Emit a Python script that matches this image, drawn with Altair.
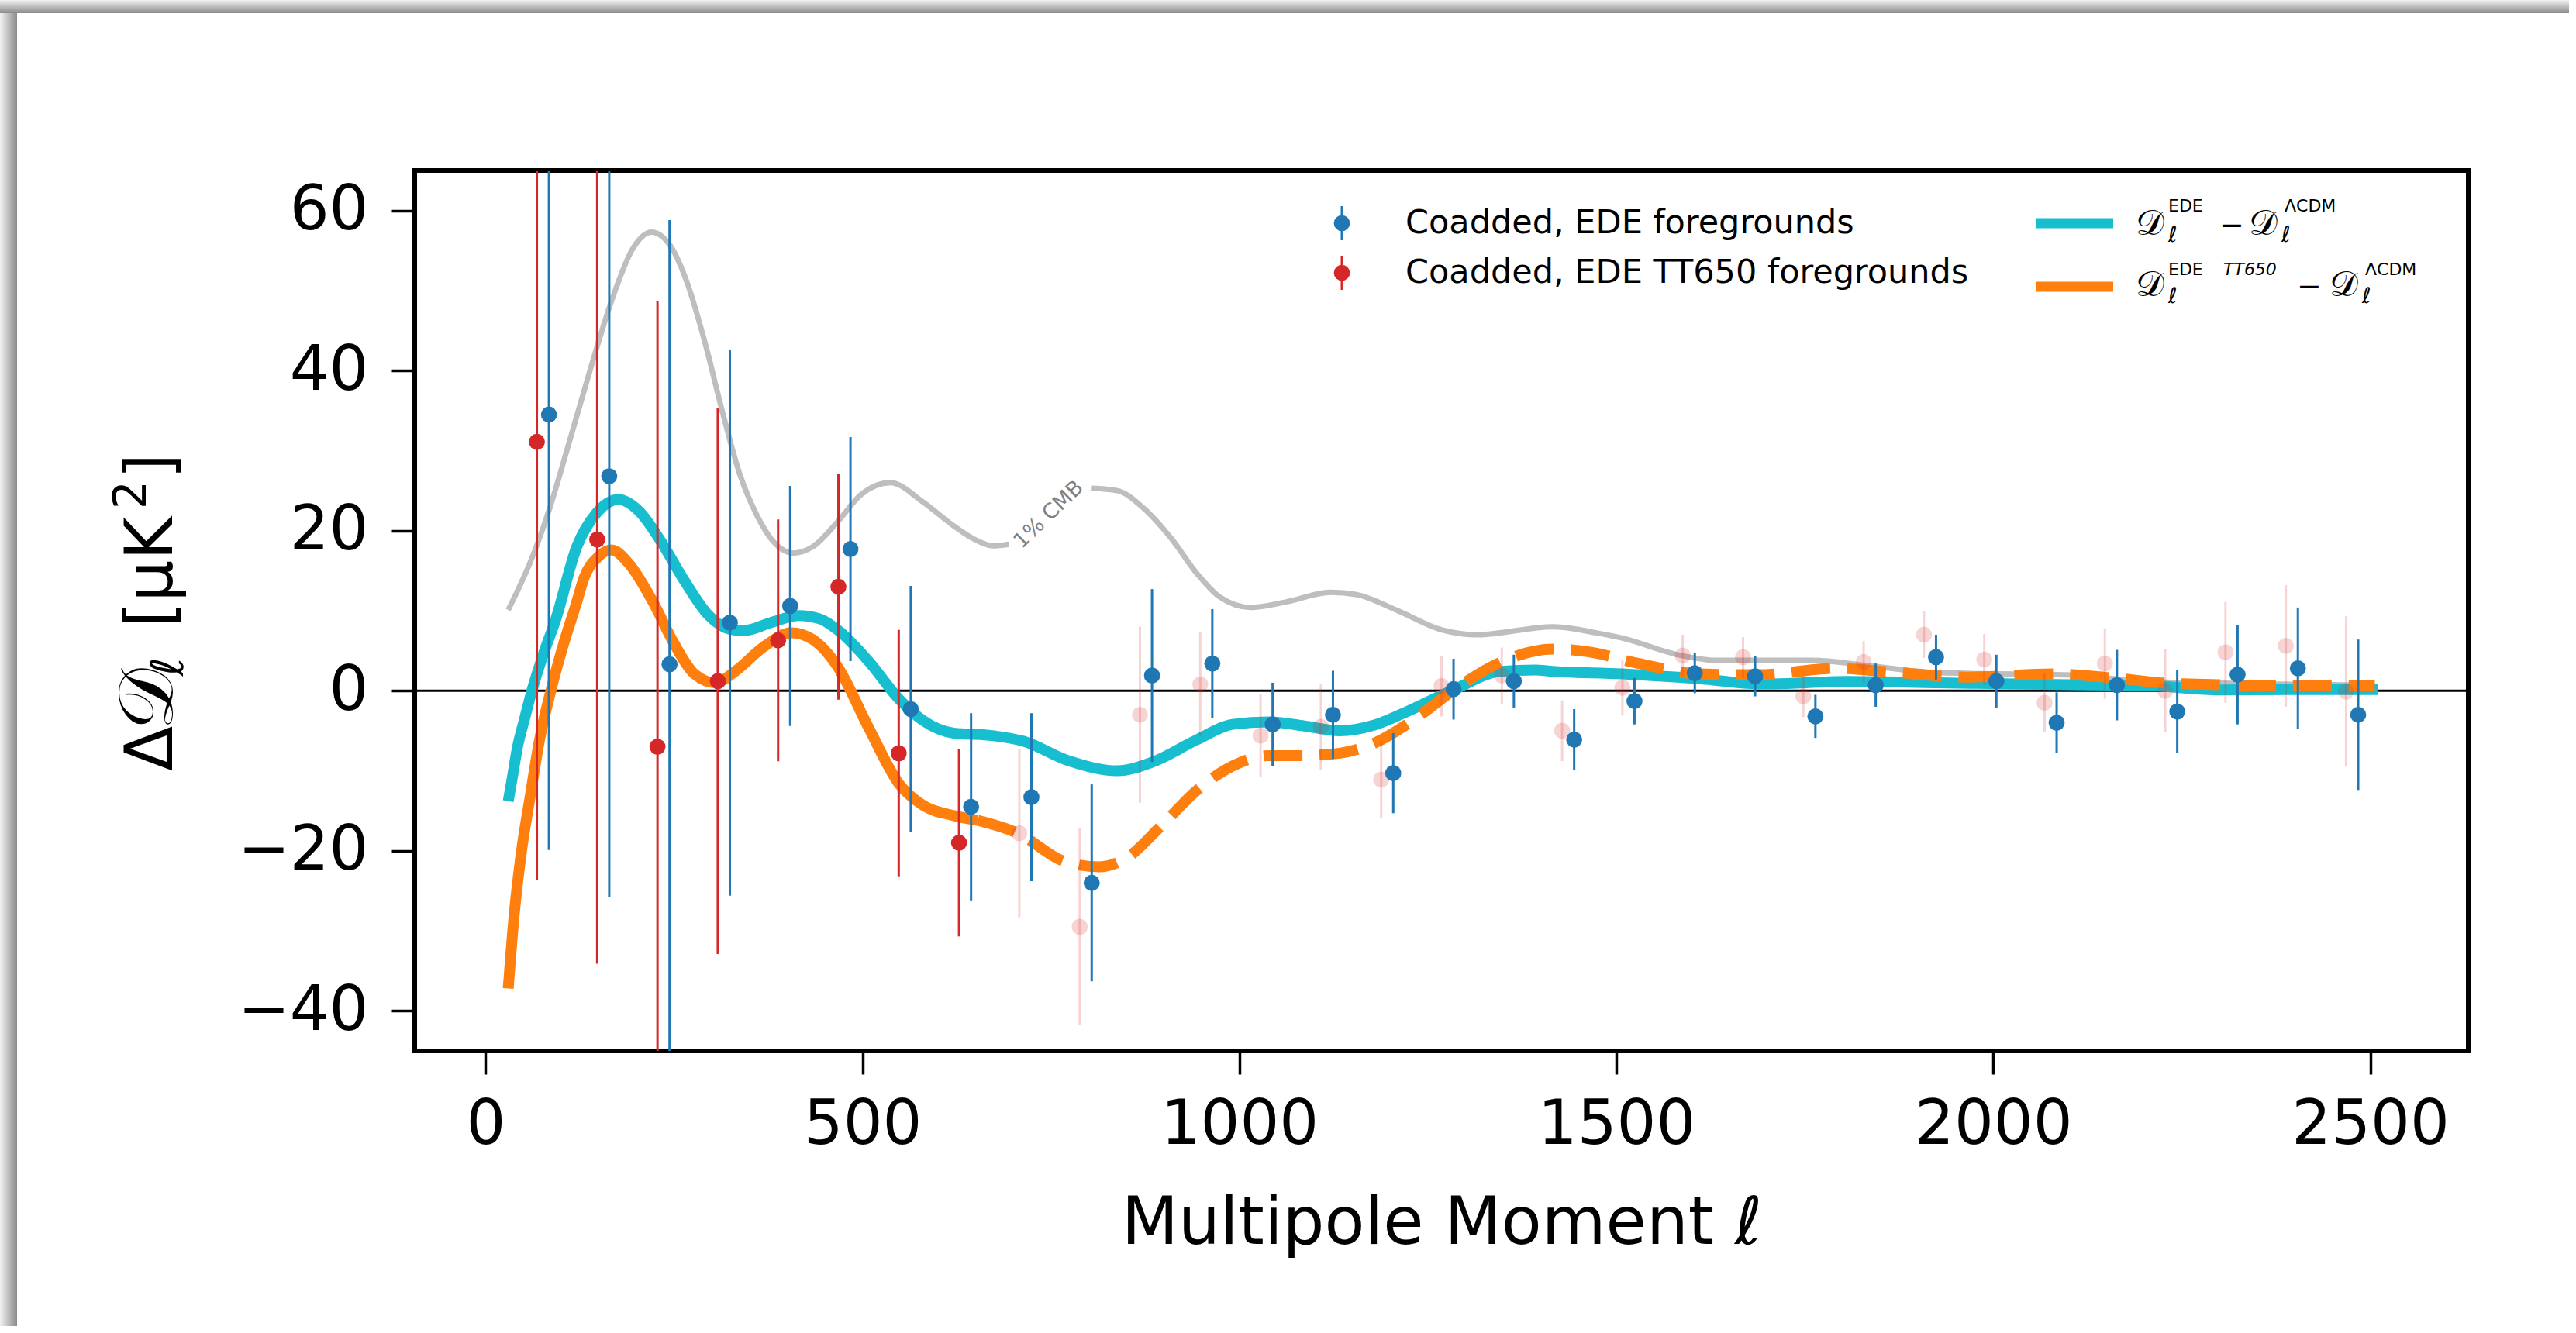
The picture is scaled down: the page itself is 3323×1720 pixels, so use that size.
import altair as alt
import pandas as pd

# ---------------- data ----------------
ell_blue = [84, 164, 244, 324, 404, 484, 564, 644, 724, 804, 884, 964, 1044, 1124, 1204, 1284,
            1364, 1444, 1524, 1604, 1684, 1764, 1844, 1924, 2004, 2084, 2164, 2244, 2324, 2404, 2484]
dl_blue = [34.5, 26.8, 3.3, 8.5, 10.6, 17.7, -2.3, -14.5, -13.3, -24.0, 1.9, 3.4, -4.2, -3.0, -10.3, 0.2,
           1.2, -6.1, -1.3, 2.2, 1.8, -3.2, 0.7, 4.2, 1.2, -4.0, 0.7, -2.6, 2.0, 2.8, -3.0]
err_blue = [54.4, 52.6, 55.5, 34.1, 15.0, 14.0, 15.4, 11.7, 10.5, 12.3, 10.8, 6.8, 5.2, 5.5, 5.0, 3.8,
            3.3, 3.8, 2.9, 2.5, 2.5, 2.7, 2.7, 2.8, 3.3, 3.8, 4.4, 5.2, 6.2, 7.6, 9.4]

ell_red = [68, 148, 228, 308, 388, 468, 548, 628, 708, 788, 868, 948, 1028, 1108, 1188, 1268,
           1348, 1428, 1508, 1588, 1668, 1748, 1828, 1908, 1988, 2068, 2148, 2228, 2308, 2388, 2468]
dl_red = [31.1, 18.9, -7.0, 1.2, 6.3, 13.0, -7.8, -19.0, -17.8, -29.5, -3.0, 0.8, -5.6, -4.5, -11.1, 0.6,
          1.9, -5.0, 0.4, 4.4, 4.2, -0.7, 3.6, 7.0, 3.9, -1.5, 3.4, 0.0, 4.8, 5.6, -0.1]
err_red = [54.7, 53.0, 55.7, 34.1, 15.1, 14.1, 15.4, 11.7, 10.5, 12.3, 11.0, 6.5, 5.2, 5.4, 4.8, 3.8,
           3.5, 3.8, 3.5, 2.6, 2.5, 2.6, 2.6, 2.9, 3.2, 3.7, 4.4, 5.2, 6.3, 7.6, 9.4]
red_cut = 650  # red points above this multipole are faded

# 1% CMB reference curve (two pieces, gap for the inline label)
cmb_ell_a = [30, 62, 85, 112, 140, 167, 195, 220, 245, 268, 291, 314, 337, 360, 383, 408, 434, 466,
             498, 537, 580, 621, 649, 673, 694]
cmb_val_a = [10.1, 16.7, 22.8, 31.4, 40.5, 48.7, 55.2, 57.3, 55.6, 50.8, 43.5, 34.9, 27.1, 21.9, 18.5,
             17.2, 18.0, 21.0, 24.5, 26.0, 23.6, 20.6, 18.9, 18.1, 18.3]
cmb_ell_b = [804, 838, 873, 909, 944, 974, 1015, 1062, 1121, 1156, 1210, 1269, 1316, 1416, 1475, 1507,
             1586, 1632, 1759, 1837, 1916, 2010, 2105, 2199, 2278, 2356, 2506]
cmb_val_b = [25.3, 25.0, 22.8, 19.1, 14.6, 11.7, 10.4, 11.1, 12.3, 12.0, 10.0, 7.6, 7.0, 8.0, 7.2, 6.6,
             4.4, 3.8, 3.8, 3.1, 2.3, 2.1, 1.96, 1.16, 1.0, 0.84, 0.68]

# EDE - LCDM
ede_ell = [30, 35, 42, 52, 62, 76, 93, 121, 149, 176, 204, 231, 264, 296, 323, 342, 378, 415, 443, 467,
           508, 549, 580, 621, 672, 713, 775, 838, 885, 944, 991, 1039, 1086, 1133, 1180, 1227, 1286,
           1345, 1393, 1412, 1507, 1609, 1696, 1806, 1924, 2081, 2199, 2301, 2396, 2510]
ede_val = [-13.8, -11.1, -7.2, -3.4, 0.2, 4.4, 8.9, 18.0, 22.4, 23.9, 22.4, 18.9, 13.7, 9.4, 7.7, 7.5,
           8.5, 9.4, 9.0, 7.6, 3.7, -1.1, -3.7, -5.3, -5.6, -6.3, -8.8, -10.0, -8.9, -6.1, -4.2, -3.9,
           -4.4, -5.0, -4.25, -2.4, 0.2, 2.4, 2.6, 2.45, 2.1, 1.5, 0.84, 1.16, 1.0, 0.77, 0.68, 0.1,
           0.15, 0.15]

# EDE TT650 - LCDM (solid below 650, dashed above)
tt_ell_solid = [30, 38, 48, 59, 72, 86, 103, 120, 131, 149, 167, 190, 222, 250, 277, 305, 332, 369, 406,
                434, 467, 508, 549, 580, 621, 653]
tt_val_solid = [-37.2, -27.9, -19.8, -13.3, -5.9, -0.2, 5.7, 10.8, 14.2, 16.7, 17.6, 15.9, 11.1, 5.9,
                2.1, 1.0, 2.5, 5.5, 7.25, 6.4, 3.0, -4.6, -11.7, -14.3, -15.6, -16.2]
tt_ell_dash = [653, 708, 767, 814, 850, 897, 944, 991, 1039, 1086, 1133, 1180, 1227, 1286, 1345, 1416,
               1460, 1530, 1609, 1688, 1790, 1869, 1963, 2081, 2160, 2238, 2356, 2506]
tt_val_dash = [-16.2, -17.9, -21.3, -22.0, -20.9, -16.8, -12.4, -9.4, -8.1, -8.1, -7.8, -6.5, -3.9, 0.2,
               3.5, 5.2, 4.9, 3.4, 2.1, 2.0, 2.8, 2.3, 1.7, 2.1, 1.6, 0.9, 0.7, 0.7]

x_ticks = [0, 500, 1000, 1500, 2000, 2500]
y_ticks = [-40, -20, 0, 20, 40, 60]
x_domain = [-94, 2630]
y_domain = [-45, 65]

cmb_label = ["1% CMB"]
cmb_label_ell = [747]
cmb_label_val = [22.0]

# ---------------- frames ----------------
blue = pd.DataFrame({"ell": ell_blue, "dl": dl_blue, "err": err_blue})
blue["lo"] = blue["dl"] - blue["err"]
blue["hi"] = blue["dl"] + blue["err"]
red = pd.DataFrame({"ell": ell_red, "dl": dl_red, "err": err_red})
red["lo"] = red["dl"] - red["err"]
red["hi"] = red["dl"] + red["err"]
red_solid = red[red["ell"] < red_cut]
red_faint = red[red["ell"] >= red_cut]

cmb = pd.DataFrame({"ell": cmb_ell_a + cmb_ell_b, "v": cmb_val_a + cmb_val_b,
                    "seg": ["a"] * len(cmb_ell_a) + ["b"] * len(cmb_ell_b)})
ede = pd.DataFrame({"ell": ede_ell, "v": ede_val})
tt_s = pd.DataFrame({"ell": tt_ell_solid, "v": tt_val_solid})
tt_d = pd.DataFrame({"ell": tt_ell_dash, "v": tt_val_dash})
lab = pd.DataFrame({"ell": cmb_label_ell, "v": cmb_label_val, "t": cmb_label})

xs = alt.Scale(domain=x_domain, nice=False, zero=False)
ys = alt.Scale(domain=y_domain, nice=False, zero=False)
X = alt.X("ell:Q", scale=xs, axis=alt.Axis(
    values=x_ticks, format="d", title="Multipole Moment ℓ", labelFontSize=80, titleFontSize=85,
    tickSize=30, tickWidth=3.5, labelPadding=26, titlePadding=46, labelFlush=False, labelLimit=600,
    labelOverlap=False, domain=False, grid=False))
Y_AX = alt.Axis(values=y_ticks, format="d", title=None, labelFontSize=80,
                tickSize=30, tickWidth=3.5, labelPadding=30, labelFlush=False,
                labelLimit=600, labelOverlap=False, domain=False, grid=False)

BLUE = "#1f77b4"
RED = "#d62728"
CYAN = "#17becf"
ORANGE = "#ff7f0e"

zero = alt.Chart(pd.DataFrame({"z": [0]})).mark_rule(color="black", strokeWidth=3).encode(
    y=alt.Y("z:Q", scale=ys, axis=Y_AX))

cmb_line = alt.Chart(cmb).mark_line(color="#bebebe", strokeWidth=7, interpolate="monotone").encode(
    x=X, y=alt.Y("v:Q", scale=ys), detail="seg:N")
ede_line = alt.Chart(ede).mark_line(color=CYAN, strokeWidth=14, interpolate="monotone",
                                    strokeCap="butt").encode(x=X, y=alt.Y("v:Q", scale=ys))
tt_solid_line = alt.Chart(tt_s).mark_line(color=ORANGE, strokeWidth=14, interpolate="monotone").encode(
    x=X, y=alt.Y("v:Q", scale=ys))
tt_dash_line = alt.Chart(tt_d).mark_line(color=ORANGE, strokeWidth=14, interpolate="monotone",
                                         strokeDash=[50, 22]).encode(x=X, y=alt.Y("v:Q", scale=ys))


def bars(df, color, op):
    return alt.Chart(df).mark_rule(color=color, strokeWidth=3, opacity=op, clip=True).encode(
        x=X, y=alt.Y("lo:Q", scale=ys), y2="hi:Q")


def pts(df, color, op):
    return alt.Chart(df).mark_circle(color=color, size=430, opacity=op, clip=True).encode(
        x=X, y=alt.Y("dl:Q", scale=ys))


cmb_text = alt.Chart(lab).mark_text(angle=316, fontSize=27, color="#808080", font="DejaVu Sans").encode(
    x=X, y=alt.Y("v:Q", scale=ys), text="t:N")

# ---------------- annotations (pixel positions relative to the plot area) ----------------
def ltxt(s, x, y, size, baseline="alphabetic", style="normal", font="DejaVu Sans", angle=0):
    return alt.Chart(pd.DataFrame({"t": [s]})).mark_text(
        align="left", baseline=baseline, fontSize=size, fontStyle=style, font=font, angle=angle,
        color="black").encode(x=alt.value(x), y=alt.value(y), text="t:N")


def lrule(x1, x2, y1, y2, color, w):
    return alt.Chart(pd.DataFrame({"a": [0]})).mark_rule(color=color, strokeWidth=w).encode(
        x=alt.value(x1), x2=alt.value(x2), y=alt.value(y1), y2=alt.value(y2))


def ldot(x, y, color):
    return alt.Chart(pd.DataFrame({"a": [0]})).mark_circle(color=color, size=430, opacity=1).encode(
        x=alt.value(x), y=alt.value(y))


def shade(x1, x2, y1, y2, vertical):
    grad = alt.LinearGradient(
        gradient="linear",
        stops=[alt.GradientStop(color="#f2f2f2", offset=0), alt.GradientStop(color="#8a8a8a", offset=1)],
        x1=0, x2=0 if vertical else 1, y1=0, y2=1 if vertical else 0)
    return alt.Chart(pd.DataFrame({"a": [0]})).mark_rect(color=grad, clip=False).encode(
        x=alt.value(x1), x2=alt.value(x2), y=alt.value(y1), y2=alt.value(y2))


frame = [
    shade(-535, 2788, -220, -203, True),
    shade(-535, -513, -203, 1500, False),
]

# y-axis title built from pieces (rotated, reading bottom to top)
ytitle = [
    ltxt("Δ", -313, 775, 85, angle=270),
    ltxt("𝒟", -313, 722, 100, angle=270),
    ltxt("ℓ", -299, 652, 58, style="italic", angle=270),
    ltxt(" [μK", -313, 590, 85, angle=270),
    ltxt("2", -347, 437, 58, angle=270),
    ltxt("]", -313, 398, 85, angle=270),
]

legend = [
    lrule(1196, 1196, 46, 90, BLUE, 3), ldot(1196, 68, BLUE),
    ltxt("Coadded, EDE foregrounds", 1278, 68, 43, baseline="middle"),
    lrule(1196, 1196, 110, 154, RED, 3), ldot(1196, 132, RED),
    ltxt("Coadded, EDE TT650 foregrounds", 1278, 132, 43, baseline="middle"),
    lrule(2091, 2191, 68, 68, CYAN, 13),
    lrule(2091, 2191, 150, 150, ORANGE, 13),
    # row 1 math label
    ltxt("𝒟", 2220, 83, 46), ltxt("EDE", 2262, 53, 22), ltxt("ℓ", 2262, 92, 28, style="italic"),
    ltxt("−", 2328, 83, 38), ltxt("𝒟", 2366, 83, 46), ltxt("ΛCDM", 2412, 53, 22),
    ltxt("ℓ", 2408, 92, 28, style="italic"),
    # row 2 math label
    ltxt("𝒟", 2220, 162, 46), ltxt("EDE", 2262, 135, 22), ltxt("TT650", 2333, 135, 22, style="italic"),
    ltxt("ℓ", 2262, 171, 28, style="italic"),
    ltxt("−", 2428, 162, 38), ltxt("𝒟", 2470, 162, 46), ltxt("ΛCDM", 2516, 135, 22),
    ltxt("ℓ", 2512, 171, 28, style="italic"),
]

chart = alt.layer(
    *frame,
    zero, cmb_line, ede_line, tt_solid_line, tt_dash_line,
    bars(red_faint, RED, 0.2), pts(red_faint, RED, 0.2),
    bars(blue, BLUE, 1.0), pts(blue, BLUE, 1.0),
    bars(red_solid, RED, 1.0), pts(red_solid, RED, 1.0),
    cmb_text, *ytitle, *legend
).properties(
    width=2649, height=1136,
    autosize=alt.AutoSizeParams(type="none"),
    padding={"left": 535, "top": 220, "right": 130, "bottom": 355},
    background="white",
).configure_view(stroke="black", strokeWidth=6).configure_axis(
    labelFont="DejaVu Sans", titleFont="DejaVu Sans", labelColor="black", titleColor="black",
    tickColor="black", titleFontWeight="normal")

chart.save("out.html", embed_options={"renderer": "svg", "actions": False})
